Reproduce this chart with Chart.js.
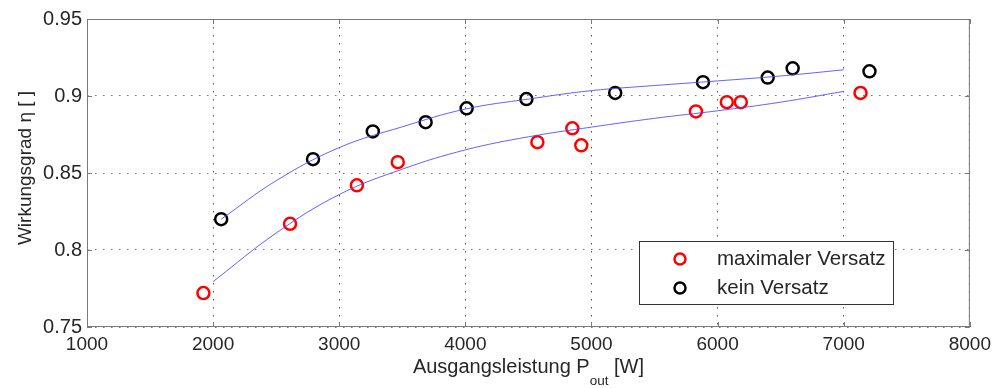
<!DOCTYPE html>
<html>
<head>
<meta charset="utf-8">
<script src="https://cdn.jsdelivr.net/npm/chart.js@4/dist/chart.umd.min.js"></script>
<style>
  html, body { margin: 0; padding: 0; background: #fff; }
  #wrap { width: 997px; height: 388px; }
</style>
</head>
<body>
<div id="wrap"><canvas id="effChart"></canvas></div>
<script>
/* ======================
   DATA
====================== */
const powerMax = [1923, 2610, 3140, 3464, 4571, 4848, 4919, 5828, 6073, 6184, 7133];
const etaMax   = [0.772, 0.817, 0.842, 0.857, 0.870, 0.879, 0.868, 0.890, 0.896, 0.896, 0.902];

const powerNone = [2064, 2792, 3266, 3685, 4010, 4484, 5188, 5884, 6397, 6595, 7204];
const etaNone   = [0.820, 0.859, 0.877, 0.883, 0.892, 0.898, 0.902, 0.909, 0.912, 0.918, 0.916];

// fitted curves (blue)
const fitPowerMax = [2000, 2500, 3000, 3500, 4000, 4500, 5000, 5500, 6000, 6500, 7000];
const fitEtaMax   = [0.7795, 0.811, 0.836, 0.8525, 0.865, 0.8735, 0.8798, 0.8855, 0.8904, 0.896, 0.903];
const fitPowerNone = [2064, 2500, 3000, 3500, 4000, 4500, 5000, 5500, 6000, 6500, 7000];
const fitEtaNone   = [0.820, 0.845, 0.8665, 0.880, 0.8915, 0.898, 0.9035, 0.9068, 0.9098, 0.913, 0.917];

const seriesLabels = ["maximaler Versatz", "kein Versatz"];
const xTicks = [1000, 2000, 3000, 4000, 5000, 6000, 7000, 8000];
const yTicks = [0.75, 0.8, 0.85, 0.9, 0.95];

const FONT = "'Liberation Sans', Arial, sans-serif";
const TEXT = "#262626";

function pts(xs, ys) {
  return xs.map((x, i) => ({ x, y: ys[i] }));
}

/* ======================
   FRAME, TITLES, LEGEND
====================== */
const decorPlugin = {
  id: "decor",
  afterDraw(chart) {
    const ctx = chart.ctx;
    const a = chart.chartArea;
    const xs = chart.scales.x, ys = chart.scales.y;
    ctx.save();

    // frame
    ctx.strokeStyle = "#7a7a7a";
    ctx.lineWidth = 1;
    ctx.strokeRect(a.left + 0.5, a.top + 0.5, a.right - a.left - 1, a.bottom - a.top - 1);

    // inner tick marks
    ctx.beginPath();
    xTicks.forEach(v => {
      const px = Math.round(xs.getPixelForValue(v)) + 0.5;
      ctx.moveTo(px, a.bottom); ctx.lineTo(px, a.bottom - 5);
      ctx.moveTo(px, a.top); ctx.lineTo(px, a.top + 5);
    });
    yTicks.forEach(v => {
      const py = Math.round(ys.getPixelForValue(v)) + 0.5;
      ctx.moveTo(a.left, py); ctx.lineTo(a.left + 5, py);
      ctx.moveTo(a.right, py); ctx.lineTo(a.right - 5, py);
    });
    ctx.stroke();

    // x title with subscript
    ctx.fillStyle = TEXT;
    ctx.textBaseline = "alphabetic";
    const main = "Ausgangsleistung P";
    const sub = "out";
    const tail = " [W]";
    ctx.font = "20px " + FONT;
    const wMain = ctx.measureText(main).width;
    const wTail = ctx.measureText(tail).width;
    ctx.font = "13.5px " + FONT;
    const wSub = ctx.measureText(sub).width;
    const total = wMain + wSub + wTail;
    const x0 = (a.left + a.right) / 2 - total / 2;
    const base = 373;
    ctx.font = "20px " + FONT;
    ctx.fillText(main, x0, base);
    ctx.font = "13.5px " + FONT;
    ctx.fillText(sub, x0 + wMain, base + 12);
    ctx.font = "20px " + FONT;
    ctx.fillText(tail, x0 + wMain + wSub, base);

    // y title
    ctx.save();
    ctx.translate(26, (a.top + a.bottom) / 2 - 5);
    ctx.rotate(-Math.PI / 2);
    ctx.textAlign = "center";
    ctx.textBaseline = "middle";
    ctx.font = "19px " + FONT;
    ctx.fillText("Wirkungsgrad \u03b7 [ ]", 0, 0);
    ctx.restore();

    // legend
    const bx = 639, by = 241, bw = 254, bh = 63;
    ctx.fillStyle = "#fff";
    ctx.fillRect(bx, by, bw, bh);
    ctx.strokeStyle = "#333";
    ctx.lineWidth = 1;
    ctx.strokeRect(bx + 0.5, by + 0.5, bw, bh);
    const colors = ["#ff0000", "#000000"];
    seriesLabels.forEach((lab, i) => {
      const cy = 259 + i * 29;
      ctx.beginPath();
      ctx.strokeStyle = colors[i];
      ctx.lineWidth = 2.5;
      ctx.arc(680, cy, 5.5, 0, Math.PI * 2);
      ctx.stroke();
      ctx.fillStyle = TEXT;
      ctx.font = "20.5px " + FONT;
      ctx.textAlign = "left";
      ctx.textBaseline = "middle";
      ctx.fillText(lab, 717, cy);
    });

    ctx.restore();
  }
};

/* ======================
   CHART
====================== */
const marker = color => ({
  showLine: false,
  pointStyle: "circle",
  pointRadius: 6,
  pointBorderWidth: 2.5,
  pointBorderColor: color,
  pointBackgroundColor: "rgba(0,0,0,0)",
  borderColor: color,
  backgroundColor: "rgba(0,0,0,0)"
});

const fitLine = {
  showLine: true,
  pointRadius: 0,
  borderWidth: 1,
  borderColor: "rgba(70,70,255,0.85)",
  tension: 0.4,
  fill: false
};

new Chart(document.getElementById("effChart"), {
  type: "scatter",
  data: {
    datasets: [
      { label: "fit max", data: pts(fitPowerMax, fitEtaMax), ...fitLine },
      { label: "fit kein", data: pts(fitPowerNone, fitEtaNone), ...fitLine },
      { label: seriesLabels[0], data: pts(powerMax, etaMax), ...marker("#ff0000") },
      { label: seriesLabels[1], data: pts(powerNone, etaNone), ...marker("#000000") }
    ]
  },
  options: {
    responsive: true,
    maintainAspectRatio: false,
    animation: false,
    layout: { padding: { top: 19, right: 23, left: 0, bottom: 0 } },
    plugins: {
      legend: { display: false },
      tooltip: { enabled: false }
    },
    scales: {
      x: {
        type: "linear",
        min: 1000,
        max: 8000,
        afterFit(s) { s.height = 61; },
        afterBuildTicks(s) { s.ticks = xTicks.map(v => ({ value: v })); },
        ticks: {
          padding: 6,
          color: TEXT,
          font: { family: FONT, size: 19 },
          callback: v => String(v),
          maxRotation: 0
        },
        grid: {
          drawTicks: false,
          color: "#555",
          lineWidth: 1
        },
        border: { display: false, dash: [1.5, 6.5] }
      },
      y: {
        type: "linear",
        min: 0.75,
        max: 0.95,
        afterFit(s) { s.width = 87; },
        afterBuildTicks(s) { s.ticks = yTicks.map(v => ({ value: v })); },
        ticks: {
          padding: 5,
          color: TEXT,
          font: { family: FONT, size: 20 },
          callback: v => String(+(+v).toFixed(2))
        },
        grid: {
          drawTicks: false,
          color: "#777",
          lineWidth: 1
        },
        border: { display: false, dash: [1.5, 6.5] }
      }
    }
  },
  plugins: [decorPlugin]
});
</script>
</body>
</html>
